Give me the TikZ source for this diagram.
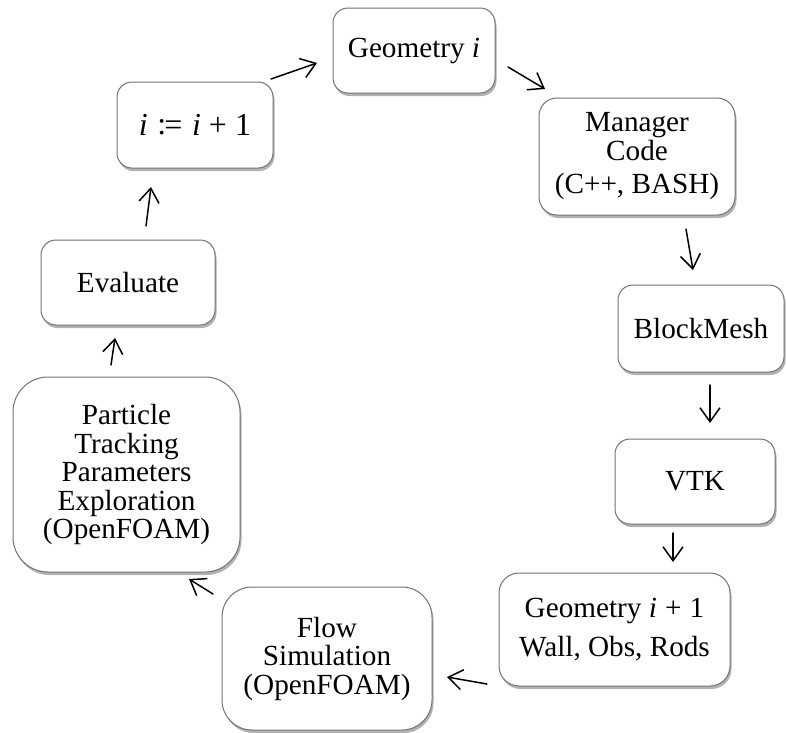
\documentclass[tikz,border=0pt]{standalone}
\usepackage{fontspec}
\setmainfont{Liberation Serif}
\usetikzlibrary{arrows.meta,shadows}

% italic variable and the "assign" sign, set in the text face
\newcommand{\vari}{\textit{i}}
\newcommand{\assign}{\raisebox{0.03em}{:}\kern-0.06em=}

\tikzset{
  stagebox/.style={
    rectangle, draw=black!55, line width=1pt, fill=white,
    inner sep=0pt, align=center, text=black,
    font=\fontsize{29.2}{28.5}\selectfont,
    drop shadow={shadow xshift=1.5pt, shadow yshift=-3pt, opacity=0.3, fill=black}
  },
  loopstep/.style={
    draw=black, line width=1.5pt, line cap=round,
    -{Straight Barb[length=14pt, width=20pt, line width=1.5pt]}
  }
}

\begin{document}
\begin{tikzpicture}[x=1pt, y=-1pt]
  \useasboundingbox (0,0) rectangle (786,732);

  % stages of the optimisation loop
  \node[stagebox, minimum width=162pt, minimum height=85pt, rounded corners=15pt]
    (geoi) at (414,50.5) {Geometry \vari};
  \node[stagebox, minimum width=196pt, minimum height=117pt, rounded corners=18pt]
    (mgr) at (637,156.5) {Manager\\Code\\[5pt](C++, BASH)};
  \node[stagebox, minimum width=166pt, minimum height=87pt, rounded corners=15pt]
    (block) at (701,328.5) {BlockMesh};
  \node[stagebox, minimum width=160pt, minimum height=85pt, rounded corners=15pt]
    (vtk) at (695,481.5) {VTK};
  \node[stagebox, minimum width=231pt, minimum height=113pt, rounded corners=20pt]
    (geonext) at (614.5,629.5) {Geometry \vari\hspace{0.28em}+\hspace{0.28em}1\\[11pt]Wall, Obs, Rods};
  \node[stagebox, minimum width=210pt, minimum height=143pt, rounded corners=30pt]
    (flow) at (327,658.5) {Flow\\Simulation\\(OpenFOAM)};
  \node[stagebox, minimum width=227pt, minimum height=195pt, rounded corners=35pt]
    (part) at (126.5,474.5) {Particle\\Tracking\\Parameters\\Exploration\\(OpenFOAM)};
  \node[stagebox, minimum width=174pt, minimum height=85pt, rounded corners=15pt]
    (eval) at (128,282.5) {Evaluate};
  \node[stagebox, minimum width=156pt, minimum height=86pt, rounded corners=15pt,
        font=\fontsize{32}{32}\selectfont]
    (inc) at (195,125) {\vari\hspace{0.3em}\assign\hspace{0.3em}\vari\hspace{0.25em}+\hspace{0.25em}1};

  % free-standing arrows between the stages
  \coordinate (s1) at (271,79);   \coordinate (e1) at (317,63);
  \coordinate (s2) at (508,67);   \coordinate (e2) at (545,89);
  \coordinate (s3) at (686,229);  \coordinate (e3) at (693,270);
  \coordinate (s4) at (710,385);  \coordinate (e4) at (710,423);
  \coordinate (s5) at (673,533);  \coordinate (e5) at (673,562);
  \coordinate (s6) at (487,684);  \coordinate (e6) at (447,677);
  \coordinate (s7) at (213,594);  \coordinate (e7) at (189,579);
  \coordinate (s8) at (111,365);  \coordinate (e8) at (115,338);
  \coordinate (s9) at (146,226);  \coordinate (e9) at (151,187);

  \foreach \k in {1,...,9}
    \draw[loopstep] (s\k) -- (e\k);
\end{tikzpicture}
\end{document}
